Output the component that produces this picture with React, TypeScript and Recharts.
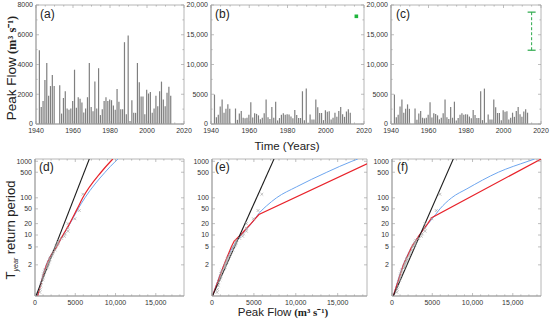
import {
  ComposedChart, Bar, Line, Scatter, XAxis, YAxis, ReferenceArea, ReferenceLine
} from 'recharts'

// annual peak flow record (m3/s)
const YEARS = [
  1942, 1943, 1944, 1945, 1946, 1947, 1948, 1949, 1950,
  1953, 1954, 1955, 1956, 1957, 1958, 1959, 1960, 1961, 1962, 1963, 1964, 1965, 1966, 1967, 1968, 1969, 1970,
  1971, 1972, 1973, 1974, 1975, 1976, 1977, 1978, 1979, 1980, 1981, 1982, 1983, 1984, 1985, 1986, 1987, 1988,
  1989, 1990, 1991, 1992, 1993, 1994, 1995, 1996, 1997, 1998, 1999, 2000, 2001, 2002, 2003, 2004, 2005, 2006,
  2007, 2008, 2009, 2010, 2011, 2012, 2013,
]
const PEAK_FLOW = [
  4950, 1150, 1550, 2950, 4100, 1900, 2550, 3300, 2550,
  2600, 700, 1750, 2200, 1050, 950, 1050, 1550, 3650, 1100, 1800, 1700, 1450, 780, 1050, 1800, 4100, 1150,
  850, 2850, 1050, 3750, 600, 1000, 1550, 1800, 1550, 1650, 1600, 1250, 950, 2350, 1500, 1000, 1000, 5500,
  650, 5950, 200, 1600, 750, 750, 4100, 2800, 1850, 1850, 650, 2300, 2050, 2150, 750, 1050, 1900, 1200,
  2200, 2850, 1650, 1200, 2100, 2500, 1900,
]

// 2016 flood peak (b) and its estimate range (c)
const FLOOD_YEAR = 2016
const FLOOD_PEAK = 18100
const ESTIMATE_YEAR = 2015
const ESTIMATE_RANGE = [12400, 18800]

// observed floods on the frequency plots: [flow, return period]
const OBSERVED: [number, number][] = [
  [5950, 125], [5500, 45], [4950, 27], [4100, 20], [4100, 15], [4100, 12.6], [3750, 10.7], [3650, 9.3],
  [3300, 8.2], [2950, 7.3], [2850, 6.6], [2850, 6.1], [2800, 5.6], [2600, 5.2], [2550, 4.8], [2500, 4.2],
  [2300, 3.8], [2200, 3.4], [2100, 3.1], [1900, 2.86], [1850, 2.64], [1800, 2.46], [1750, 2.29], [1650, 2.15],
  [1600, 2.03], [1550, 1.92], [1550, 1.82], [1450, 1.73], [1200, 1.61], [1150, 1.51], [1050, 1.42], [1050, 1.33],
  [1000, 1.26], [950, 1.2], [780, 1.14], [750, 1.08], [650, 1.04], [600, 1.02],
]

// fitted curves: [flow, return period]
const D_BLACK: [number, number][] = [[120, 1.007], [6740, 1150]]
const D_RED: [number, number][] = [
  [330, 1.007], [1430, 2], [2660, 5], [3480, 10], [4300, 20], [5240, 50], [5930, 100], [8200, 500], [9400, 1000], [9660, 1150],
]
const D_BLUE: [number, number][] = [
  [300, 1.007], [1400, 2], [2650, 5], [3500, 10], [4350, 20], [5350, 50], [6200, 100], [8700, 500], [10000, 1000], [10300, 1150],
]
const E_BLACK: [number, number][] = [[50, 1.007], [7400, 1150]]
const E_RED: [number, number][] = [
  [50, 1.007], [1430, 2], [2300, 5], [2650, 7], [3400, 10], [4650, 20], [5600, 35], [18500, 855],
]
const E_BLUE: [number, number][] = [
  [50, 1.007], [1430, 2], [2500, 5], [3500, 10], [4700, 20], [5700, 40], [6500, 60], [7700, 100],
  [10100, 200], [13700, 500], [16700, 1000], [17400, 1150],
]
const F_BLACK: [number, number][] = [[160, 1.007], [7610, 1150]]
const F_RED: [number, number][] = [
  [160, 1.007], [1410, 2], [2440, 5], [3400, 10], [4430, 20], [4930, 29], [18500, 1150],
]
const F_BLUE: [number, number][] = [
  [160, 1.007], [1400, 2], [2450, 5], [3400, 10], [4500, 20], [5400, 35], [5960, 50], [7400, 100],
  [9300, 176], [13200, 500], [16900, 1000], [17700, 1150],
]

const YEAR_TICKS = [1940, 1945, 1950, 1955, 1960, 1965, 1970, 1975, 1980, 1985, 1990, 1995, 2000, 2005, 2010, 2015, 2020]
const FLOW_TICKS_A = [0, 1000, 2000, 3000, 4000, 5000, 6000, 7000, 8000]
const FLOW_TICKS_B = [0, 2500, 5000, 7500, 10000, 12500, 15000, 17500, 20000]
const PEAK_TICKS = [0, 1000, 2000, 3000, 4000, 5000, 6000, 7000, 8000, 9000, 10000, 11000, 12000, 13000, 14000, 15000, 16000, 17000, 18000]
const T_TICKS = [2, 5, 10, 20, 50, 100, 500, 1000]

const FONT = '"Liberation Sans", Arial, sans-serif'
const SERIF = '"Liberation Serif", "Times New Roman", serif'
const AXIS = '#a3a3a3'
const INK = '#333'

// Gumbel reduced variate, the probability axis of the lower panels
const gumbel = (T: number) => -Math.log(-Math.log(1 - 1 / T))
const fromGumbel = (v: number) => 1 / (1 - Math.exp(-Math.exp(-v)))

const FLOW_ROWS = YEARS.map((year, i) => ({ year, flow: PEAK_FLOW[i] }))
const toPts = (pairs: [number, number][]) => pairs.map(([x, T]) => ({ x, y: gumbel(T) }))

type Box = { x: number; y: number; w: number; h: number }
const MT = 4, MR = 14, YW = 32, XH = 16

const fmtNum = (v: number) => (v >= 10000 ? v.toLocaleString('en-US') : String(v))

const xTick = (box: Box, isMajor: (v: number) => boolean, fmt: (v: number) => string) => (p: any) => {
  const v = p.payload.value
  const major = isMajor(v)
  const len = major ? 3 : 1.6
  const b = MT + box.h
  return (
    <g>
      <line x1={p.x} x2={p.x} y1={b} y2={b - len} stroke={AXIS} strokeWidth={0.7} />
      <line x1={p.x} x2={p.x} y1={MT} y2={MT + len} stroke={AXIS} strokeWidth={0.7} />
      {major && (
        <text x={p.x} y={b + 9} textAnchor="middle" fontSize={7} fill={INK} fontFamily={FONT}>{fmt(v)}</text>
      )}
    </g>
  )
}

const yTick = (box: Box, isMajor: (v: number) => boolean, fmt: (v: number) => string) => (p: any) => {
  const v = p.payload.value
  const major = isMajor(v)
  const len = major ? 3 : 1.6
  const r = YW + box.w
  return (
    <g>
      <line x1={YW} x2={YW + len} y1={p.y} y2={p.y} stroke={AXIS} strokeWidth={0.7} />
      <line x1={r} x2={r - len} y1={p.y} y2={p.y} stroke={AXIS} strokeWidth={0.7} />
      {major && (
        <text x={YW - 3} y={p.y} dy="0.35em" textAnchor="end" fontSize={7} fill={INK} fontFamily={FONT}>{fmt(v)}</text>
      )}
    </g>
  )
}

const place = (box: Box) => ({ position: 'absolute' as const, left: box.x - YW, top: box.y - MT })

function FlowPanel({ box, yMax, yTicks, yStep, flood, estimate }: {
  box: Box; yMax: number; yTicks: number[]; yStep: number; flood?: boolean; estimate?: boolean
}) {
  return (
    <div style={place(box)}>
      <ComposedChart width={YW + box.w + MR} height={MT + box.h + XH} data={FLOW_ROWS}
        margin={{ top: MT, right: MR, left: 0, bottom: 0 }}>
        <XAxis dataKey="year" type="number" domain={[1940, 2020]} ticks={YEAR_TICKS} interval={0}
          height={XH} tickSize={0} tickLine={false} axisLine={{ stroke: AXIS }} allowDataOverflow
          tick={xTick(box, v => v % 20 === 0, String)} />
        <YAxis dataKey="flow" type="number" domain={[0, yMax]} ticks={yTicks} interval={0}
          width={YW} tickSize={0} tickLine={false} axisLine={{ stroke: AXIS }} allowDataOverflow
          tick={yTick(box, v => v % yStep === 0, v => (yMax > 10000 ? fmtNum(v) : String(v)))} />
        <ReferenceArea x1={1940} x2={2020} y1={0} y2={yMax} fill="none" stroke={AXIS} strokeWidth={0.8} />
        <Bar dataKey="flow" barSize={1.2} fill="#7f7f7f" isAnimationActive={false} />
        {flood && (
          <Scatter data={[{ year: FLOOD_YEAR, flow: FLOOD_PEAK }]} isAnimationActive={false}
            shape={(p: any) => <rect x={p.cx - 1.8} y={p.cy - 1.8} width={3.6} height={3.6} fill="#1fb53c" />} />
        )}
        {estimate && (
          <ReferenceLine segment={[{ x: ESTIMATE_YEAR, y: ESTIMATE_RANGE[0] }, { x: ESTIMATE_YEAR, y: ESTIMATE_RANGE[1] }]}
            stroke="#2aa84a" strokeWidth={1} strokeDasharray="3 2" />
        )}
        {estimate && (
          <Scatter data={ESTIMATE_RANGE.map(flow => ({ year: ESTIMATE_YEAR, flow }))} isAnimationActive={false}
            shape={(p: any) => <line x1={p.cx - 4} x2={p.cx + 4} y1={p.cy} y2={p.cy} stroke="#2aa84a" strokeWidth={1.2} />} />
        )}
      </ComposedChart>
    </div>
  )
}

const cross = (p: any) => (
  <path d={`M${p.cx - 1.4},${p.cy - 1.4}L${p.cx + 1.4},${p.cy + 1.4}M${p.cx - 1.4},${p.cy + 1.4}L${p.cx + 1.4},${p.cy - 1.4}`}
    stroke="#a8a8a8" strokeWidth={0.7} fill="none" />
)

const Y_MIN = -1.6, Y_MAX = 7.05

function FreqPanel({ box, black, red, blue, redSmooth }: {
  box: Box; black: [number, number][]; red: [number, number][]; blue: [number, number][]; redSmooth?: boolean
}) {
  return (
    <div style={place(box)}>
      <ComposedChart width={YW + box.w + MR} height={MT + box.h + XH}
        margin={{ top: MT, right: MR, left: 0, bottom: 0 }}>
        <XAxis dataKey="x" type="number" domain={[0, 18500]} ticks={PEAK_TICKS} interval={0}
          height={XH} tickSize={0} tickLine={false} axisLine={{ stroke: AXIS }} allowDataOverflow
          tick={xTick(box, v => v % 5000 === 0, fmtNum)} />
        <YAxis dataKey="y" type="number" domain={[Y_MIN, Y_MAX]} ticks={T_TICKS.map(gumbel)} interval={0}
          width={YW} tickSize={0} tickLine={false} axisLine={{ stroke: AXIS }} allowDataOverflow
          tick={yTick(box, () => true, v => String(Math.round(fromGumbel(v))))} />
        <ReferenceArea x1={0} x2={18500} y1={Y_MIN} y2={Y_MAX} fill="none" stroke={AXIS} strokeWidth={0.8} />
        <Scatter data={toPts(OBSERVED)} shape={cross} isAnimationActive={false} />
        <Line data={toPts(blue)} dataKey="y" type="monotone" stroke="#6ea6ef" strokeWidth={1} dot={false} isAnimationActive={false} />
        <Line data={toPts(red)} dataKey="y" type={redSmooth ? 'monotone' : 'linear'} stroke="#e8222a" strokeWidth={1.2} dot={false} isAnimationActive={false} />
        <Line data={toPts(black)} dataKey="y" type="linear" stroke="#1c1c1c" strokeWidth={1.1} dot={false} isAnimationActive={false} />
      </ComposedChart>
    </div>
  )
}

const BOX_A: Box = { x: 36, y: 5, w: 148, h: 119 }
const BOX_B: Box = { x: 211, y: 5, w: 153, h: 119 }
const BOX_C: Box = { x: 391, y: 5, w: 150, h: 119 }
const BOX_D: Box = { x: 35, y: 159, w: 149, h: 137 }
const BOX_E: Box = { x: 212, y: 159, w: 155, h: 137 }
const BOX_F: Box = { x: 392, y: 159, w: 149, h: 137 }

const letter = (x: number, y: number, s: string) => (
  <text x={x} y={y} fontSize={12} fill="#222" fontFamily={FONT}>{s}</text>
)

export default function App() {
  return (
    <div style={{ position: 'absolute', left: 0, top: 0, width: 550, height: 322, background: '#fff', overflow: 'hidden' }}>
      <FlowPanel box={BOX_A} yMax={8000} yTicks={FLOW_TICKS_A} yStep={2000} />
      <FlowPanel box={BOX_B} yMax={20000} yTicks={FLOW_TICKS_B} yStep={5000} flood />
      <FlowPanel box={BOX_C} yMax={20000} yTicks={FLOW_TICKS_B} yStep={5000} estimate />
      <FreqPanel box={BOX_D} black={D_BLACK} red={D_RED} blue={D_BLUE} redSmooth />
      <FreqPanel box={BOX_E} black={E_BLACK} red={E_RED} blue={E_BLUE} />
      <FreqPanel box={BOX_F} black={F_BLACK} red={F_RED} blue={F_BLUE} />
      <svg width={550} height={322} style={{ position: 'absolute', left: 0, top: 0, pointerEvents: 'none' }}>
        {letter(40, 17.5, '(a)')}
        {letter(215, 17.5, '(b)')}
        {letter(396, 17.5, '(c)')}
        {letter(39, 170.5, '(d)')}
        {letter(215, 170.5, '(e)')}
        {letter(397, 170.5, '(f)')}
        <text transform="translate(16,68) rotate(-90)" textAnchor="middle" fontSize={13.5} fill="#222" fontFamily={FONT}>
          Peak Flow
          <tspan fontFamily={SERIF} fontWeight="bold" fontSize={12.5}> (m³ s⁻¹)</tspan>
        </text>
        <text transform="translate(15,230) rotate(-90)" textAnchor="middle" fontSize={13} fill="#222" fontFamily={FONT}>
          T<tspan fontSize={7} fontStyle="italic" dy={3}>year</tspan>
          <tspan dy={-3}> return period</tspan>
        </text>
        <text x={287} y={149.5} textAnchor="middle" fontSize={11.5} fill="#222" fontFamily={FONT}>Time (Years)</text>
        <text x={283} y={316} textAnchor="middle" fontSize={11.5} fill="#222" fontFamily={FONT}>
          Peak Flow
          <tspan fontFamily={SERIF} fontWeight="bold" fontSize={11}> (m³ s⁻¹)</tspan>
        </text>
      </svg>
    </div>
  )
}
